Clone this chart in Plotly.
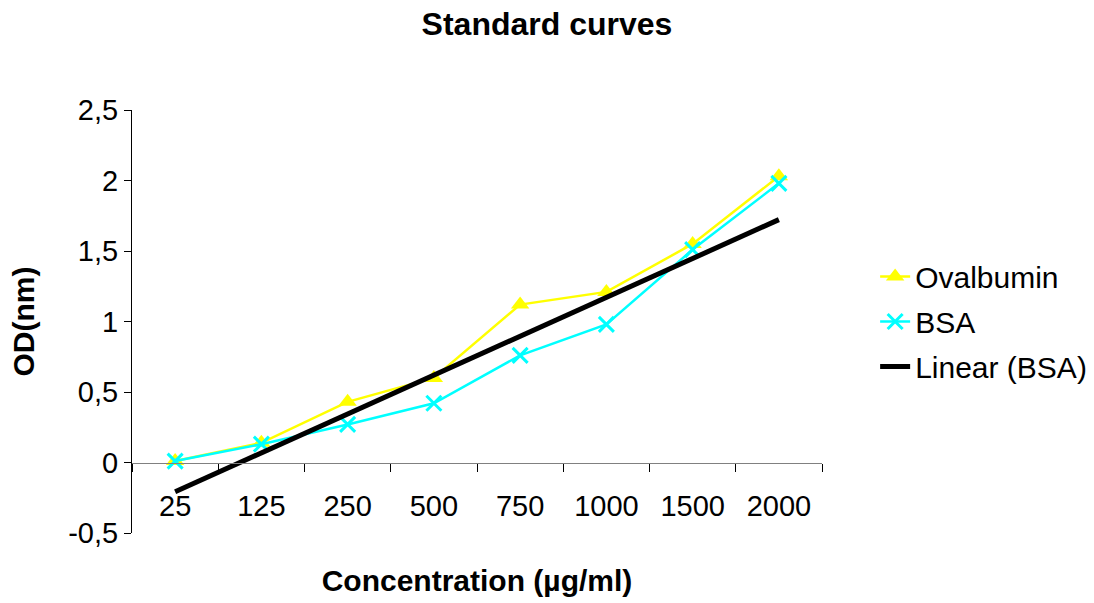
import numpy as np
import plotly.graph_objects as go

# Concentrations (µg/ml) used as categories on the x axis
concentrations = ["25", "125", "250", "500", "750", "1000", "1500", "2000"]

# Measured optical densities
ovalbumin_od = [0.01, 0.14, 0.43, 0.60, 1.12, 1.21, 1.55, 2.03]
bsa_od = [0.01, 0.13, 0.27, 0.42, 0.76, 0.98, 1.51, 1.98]

# Y tick labels with comma decimals
y_tick_vals = [-0.5, 0, 0.5, 1, 1.5, 2, 2.5]
y_tick_text = ["-0,5", "0", "0,5", "1", "1,5", "2", "2,5"]

# Category positions 1..n
pos = np.arange(1, len(concentrations) + 1)

# Least-squares trend line through the BSA points
slope, intercept = np.polyfit(pos, bsa_od, 1)
bsa_trend = slope * pos + intercept

FONT = "Liberation Sans, Arial, sans-serif"

fig = go.Figure()

fig.add_trace(go.Scatter(
    x=pos, y=ovalbumin_od, name="Ovalbumin", mode="lines+markers",
    line=dict(color="#FFFF00", width=2.5),
    marker=dict(symbol="triangle-up", size=16, color="#FFFF00"),
    legendgroup="a",
))
fig.add_trace(go.Scatter(
    x=pos, y=bsa_od, name="BSA", mode="lines+markers",
    line=dict(color="#00FFFF", width=2.5),
    marker=dict(symbol="x-thin", size=15, color="#00FFFF",
                line=dict(color="#00FFFF", width=3)),
    legendgroup="b",
))
fig.add_trace(go.Scatter(
    x=pos, y=bsa_trend, name="Linear (BSA)", mode="lines",
    line=dict(color="black", width=5),
    legendgroup="c",
))

fig.update_layout(
    width=1094, height=603,
    paper_bgcolor="white", plot_bgcolor="white",
    separators=", ",
    margin=dict(l=132, r=272, t=110, b=70, autoexpand=False),
    font=dict(family=FONT, size=28, color="black"),
    title=dict(text="<b>Standard curves</b>", x=0.5, xanchor="center",
               y=1 - 24 / 603, yanchor="middle",
               font=dict(family=FONT, size=32, color="black")),
    showlegend=True,
    legend=dict(x=1.077, xanchor="left", y=0.5, yanchor="middle",
                font=dict(family=FONT, size=30, color="black"),
                tracegroupgap=3, itemwidth=30,
                bgcolor="rgba(0,0,0,0)"),
    xaxis=dict(
        range=[0.5, len(concentrations) + 0.5],
        tickvals=pos, ticktext=concentrations,
        ticks="outside", ticklen=18, tickcolor="rgba(0,0,0,0)",
        showline=True, linecolor="#808080", linewidth=1,
        showgrid=False, zeroline=False,
        anchor="free", position=1 / 6,
        tickfont=dict(family=FONT, size=29),
        minor=dict(tickvals=np.arange(0.5, len(concentrations) + 1, 1.0),
                   ticks="outside", ticklen=8, tickcolor="black", tickwidth=1),
        title=dict(text="<b>Concentration (µg/ml)</b>",
                   font=dict(family=FONT, size=30), standoff=48),
    ),
    yaxis=dict(
        range=[-0.5, 2.5],
        tickvals=y_tick_vals, ticktext=y_tick_text,
        ticks="outside", ticklen=7, tickcolor="black", tickwidth=1,
        showline=True, linecolor="black", linewidth=1,
        showgrid=False, zeroline=False,
        tickfont=dict(family=FONT, size=29),
        title=dict(text="<b>OD(nm)</b>", font=dict(family=FONT, size=30),
                   standoff=24),
    ),
)

fig.write_html("out.html")
